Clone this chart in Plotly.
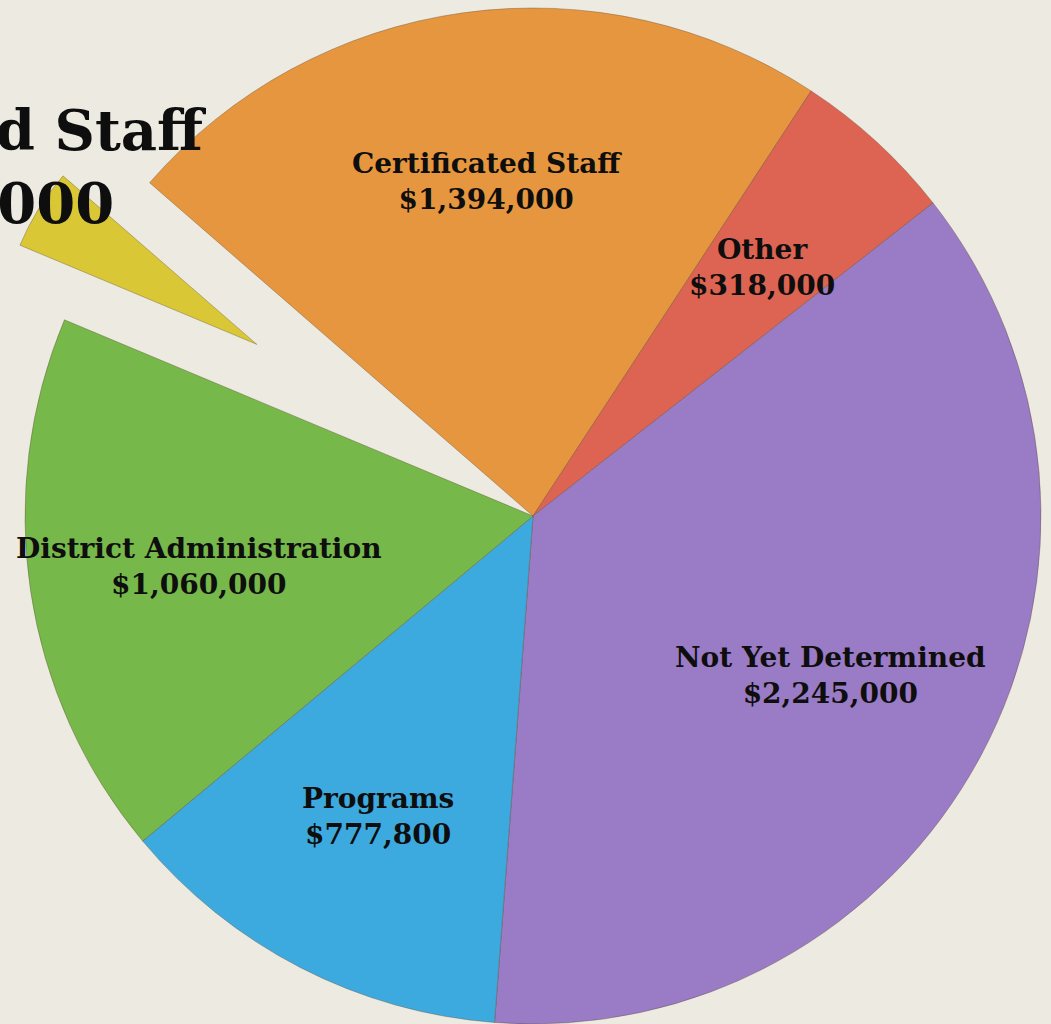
import numpy as np
import plotly.graph_objects as go

# ---- data ----
labels = ["Certificated Staff", "Other", "Not Yet Determined", "Programs",
          "District Administration", "Classified Staff"]
values = [1394000, 318000, 2245000, 777800, 1060000, 310000]
value_text = ["$1,394,000", "$318,000", "$2,245,000", "$777,800",
              "$1,060,000", "$310,000"]
pull = [0, 0, 0, 0, 0, 0.64]

# ---- styles ----
colors = ["#E6963F", "#DD6453", "#9A7BC5", "#3DAADF", "#77B84A", "#D9C736"]
label_sizes = [28, 28, 28, 28, 28, 56]
FONT = "DejaVu Serif"
W, H = 1051, 1024
CX, CY, R = 533, 516, 508
ROTATION = -49
LABEL_R = 0.665
EDGE = "rgba(90,70,40,0.35)"
TRANSPARENT = "rgba(0,0,0,0)"

vals = np.array(values, dtype=float)
frac = vals / vals.sum()
start = ROTATION + 360 * np.concatenate([[0], np.cumsum(frac)[:-1]])
mid = np.radians(start + 180 * frac)
pull_arr = np.array(pull)

# slice apex (pulled slices move outward along their mid angle)
apex_x = CX + pull_arr * R * np.sin(mid)
apex_y = CY - pull_arr * R * np.cos(mid)

fig = go.Figure()

# main pie (pulled slices drawn separately)
main_colors = [TRANSPARENT if p > 0 else c for c, p in zip(colors, pull)]
main_widths = [0 if p > 0 else 1 for p in pull]
fig.add_trace(go.Pie(
    labels=labels, values=values, sort=False, direction="clockwise",
    rotation=ROTATION, textinfo="none", hoverinfo="skip", showlegend=False,
    marker=dict(colors=main_colors, line=dict(color=EDGE, width=main_widths)),
    domain=dict(x=[(CX - R) / W, (CX + R) / W],
                y=[1 - (CY + R) / H, 1 - (CY - R) / H]),
))

# exploded slices: same pie, only that slice visible, centred at its apex
for i, p in enumerate(pull):
    if p <= 0:
        continue
    ax, ay = apex_x[i], apex_y[i]
    r2 = min(ax, ay, W - ax, H - ay, R)
    cols = [colors[j] if j == i else TRANSPARENT for j in range(len(values))]
    widths = [1 if j == i else 0 for j in range(len(values))]
    fig.add_trace(go.Pie(
        labels=labels, values=values, sort=False, direction="clockwise",
        rotation=ROTATION, textinfo="none", hoverinfo="skip", showlegend=False,
        marker=dict(colors=cols, line=dict(color=EDGE, width=widths)),
        domain=dict(x=[(ax - r2) / W, (ax + r2) / W],
                    y=[1 - (ay + r2) / H, 1 - (ay - r2) / H]),
    ))

# slice labels
for i in range(len(values)):
    lx = apex_x[i] + LABEL_R * R * np.sin(mid[i])
    ly = apex_y[i] - LABEL_R * R * np.cos(mid[i])
    fig.add_annotation(
        x=lx / W, y=1 - ly / H, xref="paper", yref="paper",
        text=f"<b>{labels[i]}</b><br><b>{value_text[i]}</b>",
        showarrow=False, xanchor="center", yanchor="middle",
        font=dict(family=FONT, size=label_sizes[i], color="#0E0E0E"),
    )

fig.update_layout(
    width=W, height=H, margin=dict(l=0, r=0, t=0, b=0),
    paper_bgcolor="#EDEAE1", plot_bgcolor="#EDEAE1", showlegend=False,
)

fig.write_html("out.html", config={"displayModeBar": False},
               post_script="document.body.style.margin='0px';")
